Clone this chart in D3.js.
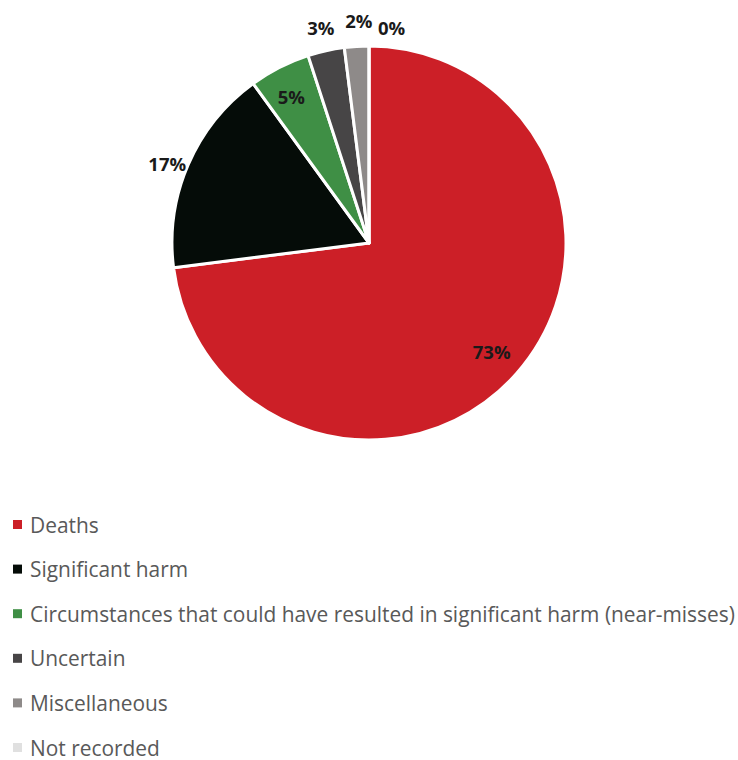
<!DOCTYPE html>
<html>
<head>
<meta charset="utf-8">
<script src="https://cdn.jsdelivr.net/npm/d3@7"></script>
<style>
  html, body { margin: 0; padding: 0; background: #fff; }
  svg { display: block; }
</style>
</head>
<body>
<svg id="chart" width="738" height="760"></svg>
<script>
// Outcome categories and their shares (%)
const categories = [
  "Deaths",
  "Significant harm",
  "Circumstances that could have resulted in significant harm (near-misses)",
  "Uncertain",
  "Miscellaneous",
  "Not recorded"
];
const values = [73, 17, 5, 3, 2, 0];
const labels = ["73%", "17%", "5%", "3%", "2%", "0%"];
const colors = ["#CC1F27", "#050C08", "#3F8F45", "#474546", "#8E8A89", "#E0E0E0"];

// Label placement: radial factor and small angular nudge (degrees)
const labelRadius = [0.83, 1.1, 0.84, 1.12, 1.13, 1.1];
const labelNudge  = [0, -2, -1, 0, 1, 6];

const svg = d3.select("#chart");
const cx = 369, cy = 243, r = 197;
const fontFamily = "'Open Sans', Lato, sans-serif";

const pie = d3.pie().sort(null).value(d => d.value);
const data = categories.map((c, i) => ({ name: c, value: values[i], label: labels[i], color: colors[i], i }));
const arcs = pie(data);
const arc = d3.arc().innerRadius(0).outerRadius(r);

const g = svg.append("g").attr("transform", `translate(${cx},${cy})`);

g.selectAll("path.slice")
  .data(arcs)
  .join("path")
  .attr("class", "slice")
  .attr("d", arc)
  .attr("fill", d => d.data.color)
  .attr("stroke", "#fff")
  .attr("stroke-width", 3)
  .attr("stroke-linejoin", "round");

const labelAngle = d => (d.startAngle + d.endAngle) / 2 + labelNudge[d.data.i] * Math.PI / 180;

g.selectAll("text.lbl")
  .data(arcs)
  .join("text")
  .attr("class", "lbl")
  .attr("x", d => Math.sin(labelAngle(d)) * r * labelRadius[d.data.i])
  .attr("y", d => -Math.cos(labelAngle(d)) * r * labelRadius[d.data.i])
  .attr("text-anchor", "middle")
  .attr("dominant-baseline", "central")
  .attr("font-family", fontFamily)
  .attr("font-weight", "bold")
  .attr("font-size", 18.5)
  .attr("fill", "#1a1a1a")
  .text(d => d.data.label);

// Legend
const legend = svg.append("g").attr("transform", "translate(13,524.5)");
const rowH = 44.6;
const items = legend.selectAll("g.item")
  .data(data)
  .join("g")
  .attr("class", "item")
  .attr("transform", (d, i) => `translate(0,${i * rowH})`);

items.append("rect")
  .attr("x", 0).attr("y", -4.5)
  .attr("width", 9).attr("height", 9)
  .attr("fill", d => d.color);

items.append("text")
  .attr("x", 17)
  .attr("y", 0)
  .attr("dominant-baseline", "central")
  .attr("font-family", fontFamily)
  .attr("font-size", 20.9)
  .attr("fill", "#595959")
  .text(d => d.name);
</script>
</body>
</html>
